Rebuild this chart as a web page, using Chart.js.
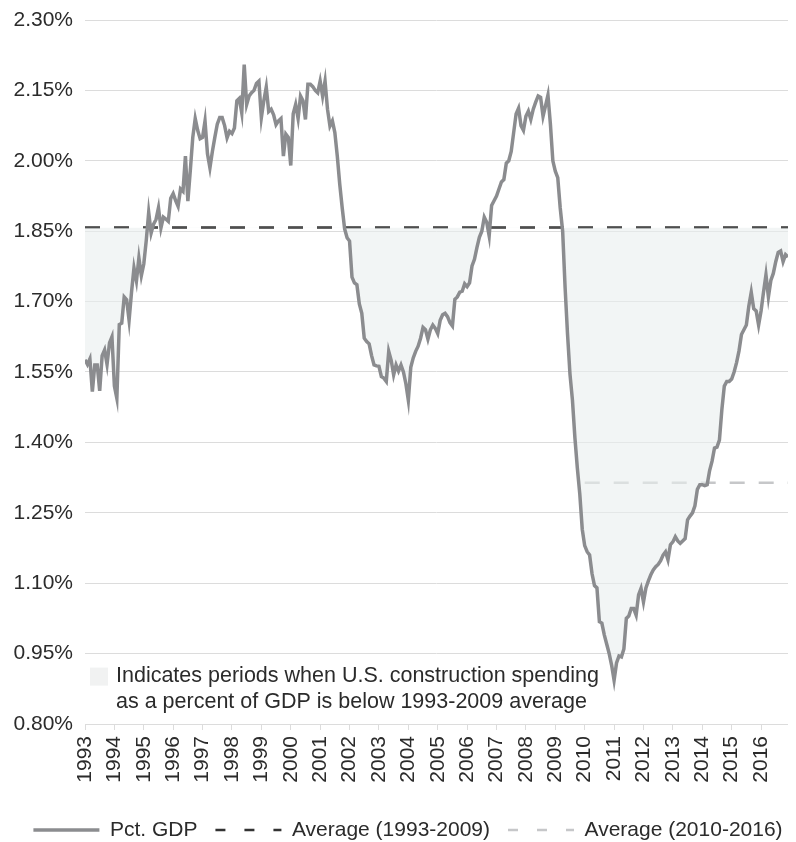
<!DOCTYPE html>
<html>
<head>
<meta charset="utf-8">
<script src="https://cdn.jsdelivr.net/npm/chart.js@4.4.1/dist/chart.umd.min.js"></script>
<style>
  html, body { margin: 0; padding: 0; background: #fff; }
  canvas { display: block; }
</style>
</head>
<body>
<canvas id="chart" width="796" height="842"></canvas>
<script>
// ---- data ----
const YEARS = [1993, 1994, 1995, 1996, 1997, 1998, 1999, 2000, 2001, 2002, 2003, 2004,
               2005, 2006, 2007, 2008, 2009, 2010, 2011, 2012, 2013, 2014, 2015, 2016];
const Y_TICKS = [0.80, 0.95, 1.10, 1.25, 1.40, 1.55, 1.70, 1.85, 2.00, 2.15, 2.30];

// monthly construction spending, % of GDP (Jan 1993 - Dec 2016)
const PCT_GDP = [
  1.576, 1.566, 1.578, 1.508, 1.565, 1.565, 1.510, 1.585, 1.597, 1.566, 1.612, 1.625, // 1993
  1.520, 1.494, 1.651, 1.654, 1.710, 1.704, 1.660, 1.720, 1.772, 1.744, 1.793, 1.755, // 1994
  1.780, 1.830, 1.890, 1.846, 1.865, 1.875, 1.900, 1.857, 1.880, 1.876, 1.871, 1.920, // 1995
  1.930, 1.915, 1.903, 1.940, 1.935, 2.010, 1.914, 1.980, 2.050, 2.090, 2.065, 2.047, // 1996
  2.050, 2.085, 2.015, 1.985, 2.020, 2.050, 2.078, 2.092, 2.092, 2.075, 2.049, 2.063, // 1997
  2.058, 2.070, 2.128, 2.133, 2.102, 2.205, 2.120, 2.138, 2.145, 2.150, 2.165, 2.170, // 1998
  2.092, 2.128, 2.157, 2.105, 2.110, 2.098, 2.077, 2.085, 2.090, 2.010, 2.057, 2.050, // 1999
  1.990, 2.100, 2.120, 2.090, 2.138, 2.128, 2.088, 2.163, 2.163, 2.158, 2.150, 2.145, // 2000
  2.170, 2.138, 2.170, 2.110, 2.074, 2.085, 2.060, 2.010, 1.950, 1.900, 1.855, 1.836, // 2001
  1.829, 1.752, 1.740, 1.736, 1.695, 1.675, 1.622, 1.615, 1.610, 1.585, 1.565, 1.563, // 2002
  1.562, 1.540, 1.537, 1.530, 1.594, 1.575, 1.544, 1.565, 1.552, 1.565, 1.550, 1.525, // 2003
  1.490, 1.560, 1.580, 1.594, 1.605, 1.622, 1.645, 1.640, 1.620, 1.640, 1.650, 1.643, // 2004
  1.632, 1.660, 1.672, 1.675, 1.668, 1.655, 1.648, 1.705, 1.710, 1.720, 1.722, 1.738, // 2005
  1.732, 1.740, 1.776, 1.790, 1.815, 1.837, 1.850, 1.880, 1.869, 1.840, 1.905, 1.915, // 2006
  1.925, 1.940, 1.955, 1.960, 1.995, 2.000, 2.020, 2.060, 2.100, 2.112, 2.075, 2.065, // 2007
  2.095, 2.106, 2.088, 2.110, 2.125, 2.138, 2.135, 2.095, 2.117, 2.140, 2.078, 2.000, // 2008
  1.978, 1.964, 1.900, 1.850, 1.730, 1.630, 1.545, 1.490, 1.410, 1.345, 1.290, 1.215, // 2009
  1.180, 1.167, 1.160, 1.120, 1.095, 1.090, 1.018, 1.015, 0.990, 0.970, 0.950, 0.925, // 2010
  0.893, 0.930, 0.945, 0.943, 0.960, 1.025, 1.030, 1.046, 1.046, 1.032, 1.075, 1.089, // 2011
  1.060, 1.090, 1.105, 1.118, 1.128, 1.135, 1.140, 1.148, 1.160, 1.167, 1.150, 1.182, // 2012
  1.188, 1.199, 1.190, 1.185, 1.190, 1.195, 1.235, 1.243, 1.250, 1.265, 1.300, 1.310, // 2013
  1.310, 1.308, 1.310, 1.340, 1.360, 1.388, 1.390, 1.405, 1.470, 1.520, 1.530, 1.530, // 2014
  1.535, 1.550, 1.570, 1.595, 1.630, 1.640, 1.650, 1.690, 1.720, 1.685, 1.680, 1.650, // 2015
  1.680, 1.720, 1.757, 1.710, 1.745, 1.760, 1.785, 1.805, 1.808, 1.785, 1.800, 1.795  // 2016
];

const AVG_1993_2009 = 1.858;
const AVG_2010_2016 = 1.314;

const NOTE_LINES = [
  'Indicates periods when U.S. construction spending',
  'as a percent of GDP is below 1993-2009 average'
];

// ---- styles ----
const FONT = '"Liberation Sans", Arial, Helvetica, sans-serif';
const FONT_SIZE = 21;
const TEXT = '#2b2b2b';
const GRID = '#dcdcdc';
const COLORS = {
  LINE:  '#8b8c8f',
  DARK:  '#333333',
  LIGHT: '#c6c7c9',
  SHADE: 'rgba(234,238,238,0.6)',
  SWATCH: '#f1f2f2'
};

Chart.defaults.font.family = FONT;
Chart.defaults.font.size = FONT_SIZE;
Chart.defaults.color = TEXT;

const monthX = i => YEARS[0] + i / 12;
const lastX = monthX(PCT_GDP.length - 1);

const pctPoints = PCT_GDP.map((v, i) => ({ x: monthX(i), y: v }));
const avgOld = [{ x: YEARS[0], y: AVG_1993_2009 }, { x: lastX, y: AVG_1993_2009 }];
const avgNew = [{ x: 2010, y: AVG_2010_2016 }, { x: lastX, y: AVG_2010_2016 }];

// note with shaded swatch, inside the plot under the 0.95% line
const notePlugin = {
  id: 'note',
  afterDraw(chart) {
    const { ctx, chartArea, scales: { y } } = chart;
    const top = y.getPixelForValue(Y_TICKS[1]);
    ctx.save();
    ctx.fillStyle = COLORS.SWATCH;
    ctx.fillRect(chartArea.left + 5, top + 14, 18, 18);
    ctx.fillStyle = TEXT;
    ctx.font = '21.5px ' + FONT;
    ctx.textBaseline = 'middle';
    NOTE_LINES.forEach((t, i) => ctx.fillText(t, chartArea.left + 31, top + 22.5 + i * 26));
    ctx.restore();
  }
};

// nudge the legend row a little to the right, like the original
const legendShift = {
  id: 'legendShift',
  afterLayout(chart) {
    chart.legend.left += 14;
    chart.legend.right += 14;
  }
};

const ctx = document.getElementById('chart').getContext('2d');
new Chart(ctx, {
  type: 'line',
  data: {
    datasets: [
      {
        label: 'Pct. GDP',
        data: pctPoints,
        borderColor: COLORS.LINE,
        backgroundColor: COLORS.SHADE,
        borderWidth: 3.5,
        pointRadius: 0,
        tension: 0,
        fill: { target: { value: AVG_1993_2009 }, above: 'rgba(0,0,0,0)', below: COLORS.SHADE }
      },
      {
        label: 'Average (1993-2009)',
        data: avgOld,
        borderColor: COLORS.DARK,
        borderWidth: 2.5,
        borderDash: [15, 14],
        pointRadius: 0,
        fill: false
      },
      {
        label: 'Average (2010-2016)',
        data: avgNew,
        borderColor: COLORS.LIGHT,
        borderWidth: 2.5,
        borderDash: [15, 14],
        pointRadius: 0,
        fill: false
      }
    ]
  },
  options: {
    responsive: false,
    animation: false,
    devicePixelRatio: 1,
    layout: { padding: { top: 20, right: 8, left: 0, bottom: -8.5 } },
    plugins: {
      tooltip: { enabled: false },
      legend: {
        position: 'bottom',
        labels: {
          usePointStyle: true,
          pointStyle: 'line',
          pointStyleWidth: 66,
          padding: 18,
          color: TEXT,
          generateLabels(chart) {
            const items = Chart.defaults.plugins.legend.labels.generateLabels(chart);
            items.forEach((it, i) => {
              if (i > 0) it.lineDash = [10, 19];
            });
            return items;
          }
        }
      }
    },
    scales: {
      x: {
        type: 'linear',
        min: YEARS[0],
        max: lastX,
        afterBuildTicks: s => { s.ticks = YEARS.map(v => ({ value: v })); },
        afterFit: s => { s.height = 77.5; },
        grid: { drawOnChartArea: false, drawTicks: true, tickLength: 6, color: GRID },
        border: { display: false },
        ticks: {
          autoSkip: false,
          maxRotation: 90,
          minRotation: 90,
          padding: 6,
          color: TEXT,
          callback: v => String(v)
        }
      },
      y: {
        min: Y_TICKS[0],
        max: Y_TICKS[Y_TICKS.length - 1],
        afterBuildTicks: s => { s.ticks = Y_TICKS.map(v => ({ value: v })); },
        afterFit: s => { s.width = 85; },
        grid: { color: GRID, drawTicks: true, tickLength: 6, tickColor: 'rgba(0,0,0,0)' },
        border: { display: false },
        ticks: {
          padding: 6,
          color: TEXT,
          callback: v => v.toFixed(2) + '%'
        }
      }
    }
  },
  plugins: [notePlugin, legendShift]
});
</script>
</body>
</html>
